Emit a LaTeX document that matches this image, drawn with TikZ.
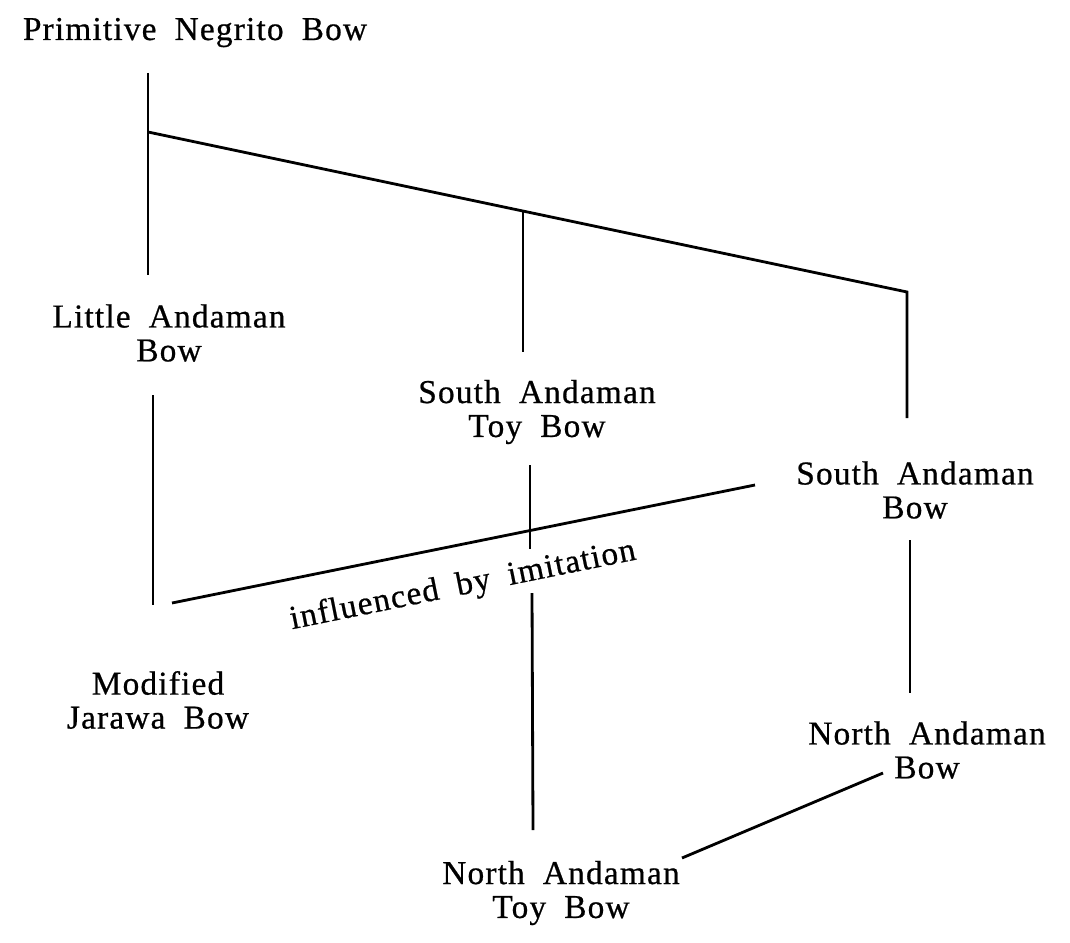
\documentclass[tikz,border=0pt]{standalone}
\usepackage{fontspec}
\setmainfont[LetterSpace=3.5,WordSpace=1.9,FakeBold=0.6]{Liberation Serif}
\usetikzlibrary{calc}

\begin{document}
\begin{tikzpicture}[x=0.02cm,y=-0.02cm,
      every node/.style={font=\fontsize{19}{19.3}\selectfont,inner sep=0pt},
      bow/.style={align=center},
      stem/.style={line width=1.6pt}]

      \useasboundingbox (0,0) rectangle (1070,942);

      % labels
      \node[anchor=base] (png) at (195,40) {Primitive Negrito Bow};
      \node[bow] (lab) at (169,333) {Little Andaman\\Bow};
      \node[bow] (satb) at (537,412) {South Andaman\\Toy Bow};
      \node[bow] (sab) at (915,490) {South Andaman\\Bow};
      \node[bow] (mjb) at (158,700) {Modified\\Jarawa Bow};
      \node[bow] (nab) at (927,750) {North Andaman\\Bow};
      \node[bow] (natb) at (561,893) {North Andaman\\Toy Bow};

      % junction points
      \coordinate (pngdown) at (148,73);
      \coordinate (labup) at (148,275);
      \coordinate (split) at (148,132);
      \coordinate (mid) at (523,212);
      \coordinate (right) at (907,292);
      \coordinate (sabup) at (907,418);
      \coordinate (satbup) at (523,352);
      \coordinate (labdown) at (153,395);
      \coordinate (mjbup) at (153,605);
      \coordinate (satbdown) at (530,465);
      \coordinate (gapup) at (530,549);
      \coordinate (gapdown) at (532,593);
      \coordinate (natbup) at (533,830);
      \coordinate (imfrom) at (172,603);
      \coordinate (imto) at (755,485);
      \coordinate (sabdown) at (910,540);
      \coordinate (nabup) at (910,693);
      \coordinate (nabdown) at (883,773);
      \coordinate (natbright) at (682,858);

      \draw[stem] (pngdown) -- (labup);
      \draw[stem] (split) -- (right) -- (sabup);
      \draw[stem] (mid) -- (satbup);
      \draw[stem] (labdown) -- (mjbup);
      \draw[stem] (satbdown) -- (gapup);
      \draw[stem] (gapdown) -- (natbup);
      \draw[stem] (imfrom) -- (imto)
        node[pos=0.485,below=14pt,sloped,inner sep=0pt] (imit) {influenced by imitation};
      \draw[stem] (sabdown) -- (nabup);
      \draw[stem] (nabdown) -- (natbright);
\end{tikzpicture}
\end{document}
